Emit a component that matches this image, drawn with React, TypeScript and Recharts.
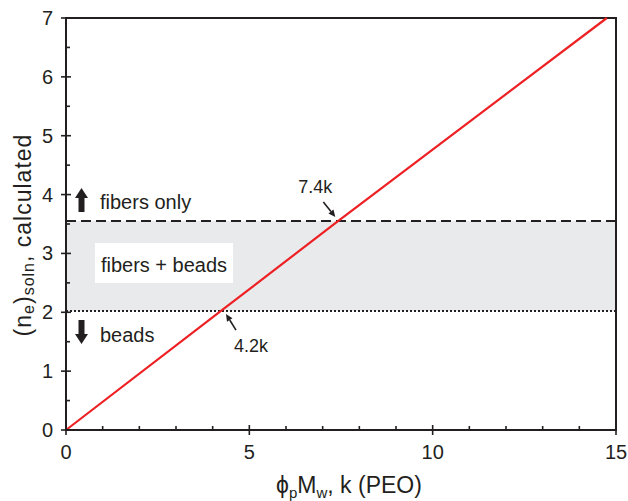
import React from "react";
import {
  LineChart,
  Line,
  XAxis,
  YAxis,
  ReferenceArea,
  ReferenceLine,
  ReferenceDot,
} from "recharts";

// values
const lineX = [0, 4.2, 7.4, 14.75];
const lineY = [0, 2.01, 3.54, 7.0];
const beadsLimit = 2.02;
const fibersLimit = 3.55;
const xTicks = [0, 1, 2, 3, 4, 5, 6, 7, 8, 9, 10, 11, 12, 13, 14, 15];
const xMajor = [0, 5, 10, 15];
const yTicks = [0, 0.5, 1, 1.5, 2, 2.5, 3, 3.5, 4, 4.5, 5, 5.5, 6, 6.5, 7];
const yMajor = [0, 1, 2, 3, 4, 5, 6, 7];

const data = lineX.map((x, i) => ({ x, y: lineY[i] }));

const INK = "#231f20";
const FONT = "'Liberation Sans', Arial, sans-serif";

function XTick(props: any) {
  const { x, y, payload } = props;
  const major = xMajor.includes(payload.value);
  return (
    <g>
      {major ? (
        <line x1={x} x2={x} y1={y + 5} y2={y - 5} stroke={INK} strokeWidth={1.6} />
      ) : (
        <line x1={x} x2={x} y1={y} y2={y - 4} stroke={INK} strokeWidth={1.6} />
      )}
      {major && (
        <text x={x} y={y + 29} textAnchor="middle" fontSize={20} fill={INK} fontFamily={FONT}>
          {payload.value}
        </text>
      )}
    </g>
  );
}

function YTick(props: any) {
  const { x, y, payload } = props;
  const major = yMajor.includes(payload.value);
  return (
    <g>
      {major ? (
        <line x1={x - 5} x2={x + 5} y1={y} y2={y} stroke={INK} strokeWidth={1.6} />
      ) : (
        <line x1={x} x2={x + 4} y1={y} y2={y} stroke={INK} strokeWidth={1.6} />
      )}
      {major && (
        <text x={x - 13} y={y + 7} textAnchor="end" fontSize={20} fill={INK} fontFamily={FONT}>
          {payload.value}
        </text>
      )}
    </g>
  );
}

function UpArrow({ cx, top }: { cx: number; top: number }) {
  const h = 10;
  return (
    <polygon
      points={`${cx},${top} ${cx + 6.5},${top + h} ${cx + 3},${top + h} ${cx + 3},${top + 24} ${cx - 3},${top + 24} ${cx - 3},${top + h} ${cx - 6.5},${top + h}`}
      fill={INK}
    />
  );
}

function DownArrow({ cx, top }: { cx: number; top: number }) {
  const b = top + 24;
  const h = 10;
  return (
    <polygon
      points={`${cx},${b} ${cx + 6.5},${b - h} ${cx + 3},${b - h} ${cx + 3},${top} ${cx - 3},${top} ${cx - 3},${b - h} ${cx - 6.5},${b - h}`}
      fill={INK}
    />
  );
}

function ThinArrow({ x1, y1, x2, y2 }: { x1: number; y1: number; x2: number; y2: number }) {
  // arrow head at (x2, y2)
  const a = Math.atan2(y2 - y1, x2 - x1);
  const len = 7;
  const w = 3.2;
  const bx = x2 - len * Math.cos(a);
  const by = y2 - len * Math.sin(a);
  const px = -Math.sin(a) * w;
  const py = Math.cos(a) * w;
  return (
    <g>
      <line x1={x1} y1={y1} x2={bx} y2={by} stroke={INK} strokeWidth={1.6} />
      <polygon points={`${x2},${y2} ${bx + px},${by + py} ${bx - px},${by - py}`} fill={INK} />
    </g>
  );
}

export default function App() {
  return (
    <div style={{ position: "absolute", left: 0, top: 0, background: "#fff" }}>
      <LineChart
        width={628}
        height={501}
        data={data}
        margin={{ top: 18, right: 12, bottom: 0, left: 0 }}
        style={{ fontFamily: FONT }}
      >
        <ReferenceArea
          y1={beadsLimit}
          y2={fibersLimit}
          x1={0}
          x2={15}
          fill="#e9eaec"
          fillOpacity={1}
          stroke="none"
          label={(p: any) => {
            const vb = p.viewBox;
            const bx = vb.x + 29;
            const by = vb.y + 22;
            return (
              <g>
                <rect x={bx} y={by} width={138} height={40} fill="#fff" />
                <text x={bx + 69} y={by + 29} textAnchor="middle" fontSize={20} fill={INK} fontFamily={FONT}>
                  fibers + beads
                </text>
              </g>
            );
          }}
        />
        <ReferenceLine
          y={fibersLimit}
          stroke={INK}
          strokeWidth={2}
          strokeDasharray="10 5"
          label={(p: any) => {
            const vb = p.viewBox;
            return (
              <g>
                <UpArrow cx={vb.x + 15.5} top={vb.y - 33} />
                <text x={vb.x + 34} y={vb.y - 12} fontSize={20} fill={INK} fontFamily={FONT}>
                  fibers only
                </text>
              </g>
            );
          }}
        />
        <ReferenceLine
          y={beadsLimit}
          stroke={INK}
          strokeWidth={2}
          strokeDasharray="2 2"
          label={(p: any) => {
            const vb = p.viewBox;
            return (
              <g>
                <DownArrow cx={vb.x + 15.5} top={vb.y + 9} />
                <text x={vb.x + 34} y={vb.y + 31} fontSize={20} fill={INK} fontFamily={FONT}>
                  beads
                </text>
              </g>
            );
          }}
        />
        <ReferenceArea
          x1={0}
          x2={15}
          y1={0}
          y2={7}
          fill="none"
          stroke={INK}
          strokeWidth={2}
        />
        <XAxis
          dataKey="x"
          type="number"
          domain={[0, 15]}
          ticks={xTicks}
          interval={0}
          height={71}
          tickSize={0}
          tickMargin={0}
          tickLine={false}
          tick={<XTick />}
          axisLine={{ stroke: INK, strokeWidth: 2 }}
          label={(p: any) => (
            <text x={349} y={493} textAnchor="middle" fontSize={23} fill={INK} fontFamily={FONT}>
              <tspan>ϕ</tspan>
              <tspan dy={5} fontSize={15}>p</tspan>
              <tspan dy={-5}>M</tspan>
              <tspan dy={5} fontSize={15}>w</tspan>
              <tspan dy={-5}>, k (PEO)</tspan>
            </text>
          )}
        />
        <YAxis
          type="number"
          domain={[0, 7]}
          ticks={yTicks}
          interval={0}
          width={66}
          tickSize={0}
          tickMargin={0}
          tickLine={false}
          tick={<YTick />}
          axisLine={{ stroke: INK, strokeWidth: 2 }}
          label={(p: any) => (
            <text
              x={23}
              y={235}
              transform="rotate(-90, 23, 235)"
              textAnchor="middle"
              dominantBaseline="central"
              fontSize={23}
              letterSpacing={1}
              fill={INK}
              fontFamily={FONT}
            >
              <tspan>(n</tspan>
              <tspan dy={5} fontSize={16}>e</tspan>
              <tspan dy={-5}>)</tspan>
              <tspan dy={5} fontSize={16}>soln</tspan>
              <tspan dy={-5}>, calculated</tspan>
            </text>
          )}
        />
        <Line
          type="linear"
          dataKey="y"
          stroke="#ed2024"
          strokeWidth={2.2}
          dot={false}
          isAnimationActive={false}
        />
        <ReferenceDot
          x={7.4}
          y={fibersLimit}
          r={0}
          shape={(p: any) => (
            <g>
              <ThinArrow x1={p.cx - 14} y1={p.cy - 19} x2={p.cx - 2} y2={p.cy - 4} />
              <text x={p.cx - 22} y={p.cy - 28} textAnchor="middle" fontSize={18} fill={INK} fontFamily={FONT}>
                7.4k
              </text>
            </g>
          )}
        />
        <ReferenceDot
          x={4.2}
          y={beadsLimit}
          r={0}
          shape={(p: any) => (
            <g>
              <ThinArrow x1={p.cx + 16} y1={p.cy + 19} x2={p.cx + 6} y2={p.cy + 3} />
              <text x={p.cx + 31} y={p.cy + 41} textAnchor="middle" fontSize={18} fill={INK} fontFamily={FONT}>
                4.2k
              </text>
            </g>
          )}
        />
      </LineChart>
    </div>
  );
}
